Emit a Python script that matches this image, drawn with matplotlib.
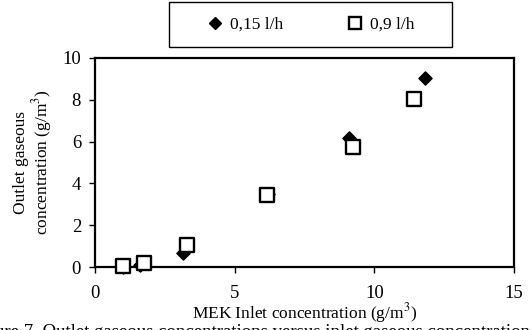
import matplotlib
matplotlib.use("Agg")
import matplotlib.pyplot as plt
from matplotlib.lines import Line2D
from matplotlib.patches import Rectangle

plt.rcParams["font.family"] = ["Liberation Serif", "DejaVu Serif"]
plt.rcParams["mathtext.fontset"] = "stix"

# 0,15 l/h series (filled diamonds)
x_015 = [1.0, 1.6, 3.15, 6.2, 9.1, 11.8]
y_015 = [0.0, 0.1, 0.65, 3.5, 6.17, 9.05]

# 0,9 l/h series (open squares)
x_09 = [1.0, 1.75, 3.3, 6.15, 9.22, 11.43]
y_09 = [0.03, 0.19, 1.07, 3.46, 5.73, 8.05]

x_ticks = [0, 5, 10, 15]
y_ticks = [0, 2, 4, 6, 8, 10]

W, H = 532, 330
fig = plt.figure(figsize=(W / 100, H / 100), dpi=100)
ax = fig.add_axes([95 / W, 1 - 267 / H, (514 - 95) / W, (267 - 58) / H])

ax.scatter(x_015, y_015, marker="D", s=45, c="black", zorder=3, clip_on=False)
ax.scatter(x_09, y_09, marker="s", s=95, facecolors="white",
           edgecolors="black", linewidths=1.7, zorder=4, clip_on=False)

ax.set_xlim(0, 15)
ax.set_ylim(0, 10)
ax.set_xticks(x_ticks)
ax.set_yticks(y_ticks)
ax.tick_params(direction="out", length=4, width=1, labelsize=13.5, pad=6,
               colors="black")
ax.tick_params(axis="x", pad=9)
for s in ax.spines.values():
    s.set_linewidth(1.6)

ax.set_xlabel("MEK Inlet concentration (g/m$^3$)", fontsize=12.5, labelpad=-1)
ax.set_ylabel("Outlet gaseous\nconcentration (g/m$^3$)", fontsize=12.5,
              labelpad=6, linespacing=1.05)

# legend box drawn as a plain rectangle, entries inside without a frame
fig.patches.append(Rectangle((169 / W, 1 - 47 / H), (452 - 169) / W, 45 / H,
                             transform=fig.transFigure, fill=False,
                             edgecolor="black", linewidth=1.0))
handles = [
    Line2D([], [], marker="D", linestyle="None", markersize=6.5,
           markerfacecolor="black", markeredgecolor="black", label="0,15 l/h"),
    Line2D([], [], marker="s", linestyle="None", markersize=9,
           markerfacecolor="white", markeredgecolor="black",
           markeredgewidth=1.7, label="0,9 l/h"),
]
fig.legend(handles=handles, loc="center",
           bbox_to_anchor=((169 + 452) / 2 / W, 1 - 25 / H),
           ncol=2, fontsize=12.5, frameon=False,
           handletextpad=0.4, columnspacing=3.6, handlelength=1.0)

fig.text(-0.01, -0.008, "ure 7. Outlet gaseous concentrations versus inlet gaseous concentration",
         fontsize=13.5, va="center", ha="left")

fig.savefig("out.png", dpi=100)
